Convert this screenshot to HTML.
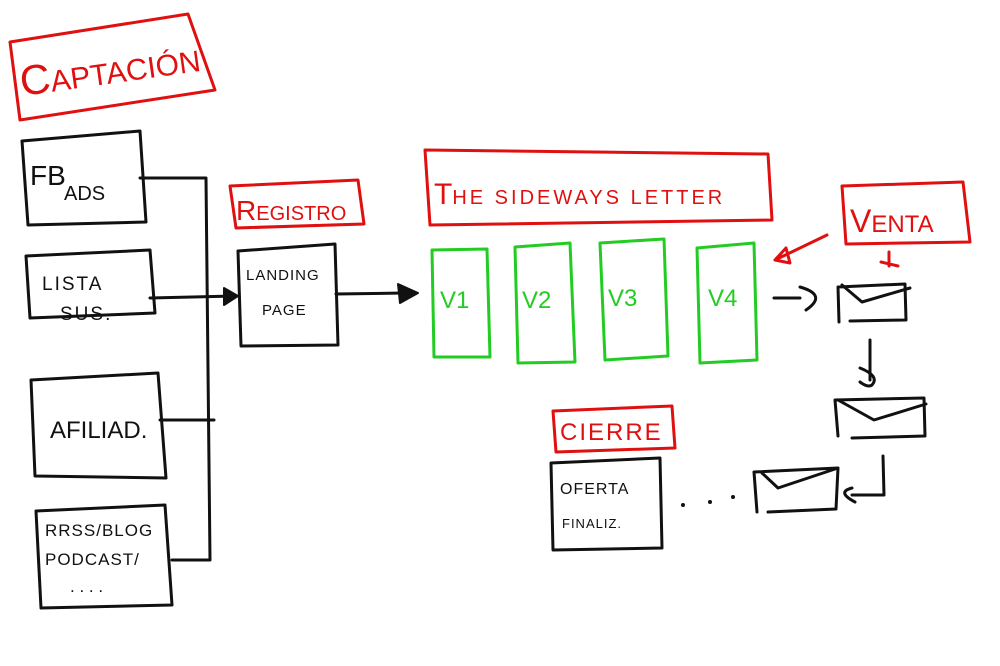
<!DOCTYPE html>
<html><head><meta charset="utf-8"><style>
html,body{margin:0;padding:0;background:#fff;width:1000px;height:666px;overflow:hidden}
svg{display:block}
text{font-family:"Liberation Sans",sans-serif;}
</style></head><body>
<svg width="1000" height="666" viewBox="0 0 1000 666" xmlns="http://www.w3.org/2000/svg">
<g fill="none" stroke-linecap="round" stroke-linejoin="round">
<g stroke="#e01010" stroke-width="3">
<path d="M10 42 L188 14 L215 90 L20 120 Z"/>
<path d="M230 186 L358 180 L364 224 L236 228 Z"/>
<path d="M425 150 L768 154 L772 220 L430 225 Z"/>
<path d="M842 186 L963 182 L970 242 L846 244 Z"/>
<path d="M553 411 L672 406 L675 448 L556 452 Z"/>
<path d="M827 235 Q800 248 775 260 M775 260 L786 248 M775 260 L790 263 L786 248"/>
<path d="M889 252 L889 266 M881 262 L898 266"/>
</g>
<g stroke="#111" stroke-width="3">
<path d="M22 141 L140 131 L146 222 L28 225 Z"/>
<path d="M26 256 L150 250 L155 313 L30 318 Z"/>
<path d="M31 380 L158 373 L166 478 L35 476 Z"/>
<path d="M36 511 L165 505 L172 605 L41 608 Z"/>
<path d="M238 251 L335 244 L338 345 L241 346 Z"/>
<path d="M551 463 L660 458 L662 548 L553 550 Z"/>
<path d="M140 178 L206 178 L210 560 L172 560"/>
<path d="M160 420 L214 420"/>
<path d="M150 298 L235 296"/>
<path d="M336 294 L404 293"/>
<path d="M774 298 L800 298 M800 287 Q828 295 806 310"/>
<path d="M838 287 L905 284 L906 320 L850 321 M838 287 L839 322 M842 285 L862 302 L910 288"/>
<path d="M835 400 L924 398 L925 436 L852 438 M835 400 L838 436 M838 400 L874 420 L926 404"/>
<path d="M754 472 L838 468 L836 509 L768 512 M754 472 L757 512 M762 473 L778 488 L838 468"/>
<path d="M870 340 L870 380 M860 368 Q880 376 872 385 Q868 388 860 382"/>
<path d="M883 456 L884 495 L852 495 M852 488 Q836 492 855 502"/>
</g>
<g fill="#111" stroke="#111" stroke-width="2">
<path d="M224 288 L238 296 L224 305 Z"/>
<path d="M398 284 L418 293 L400 303 Z"/>
</g>
<g fill="#111"><circle cx="683" cy="505" r="2"/><circle cx="710" cy="502" r="2"/><circle cx="733" cy="497" r="2"/></g>
<g stroke="#22cc22" stroke-width="3">
<path d="M432 250 L487 249 L490 357 L434 357 Z"/>
<path d="M515 247 L570 243 L575 362 L518 363 Z"/>
<path d="M600 243 L664 239 L668 356 L605 360 Z"/>
<path d="M697 248 L754 243 L757 360 L700 363 Z"/>
</g>
</g>
<g fill="#e01010">
<text x="22" y="96" font-size="42" transform="rotate(-8 22 96)">C<tspan font-size="30">APTACIÓN</tspan></text>
<text x="236" y="220" font-size="28">R<tspan font-size="20">EGISTRO</tspan></text>
<text x="434" y="204" font-size="30">T<tspan font-size="20" letter-spacing="3">HE SIDEWAYS LETTER</tspan></text>
<text x="850" y="232" font-size="32">V<tspan font-size="24">ENTA</tspan></text>
<text x="560" y="440" font-size="24" letter-spacing="2">CIERRE</text>
</g>
<g fill="#22cc22" font-size="24">
<text x="440" y="308">V1</text><text x="522" y="308">V2</text><text x="608" y="306">V3</text><text x="708" y="306">V4</text>
</g>
<g fill="#111">
<text x="30" y="185" font-size="28">FB</text><text x="64" y="200" font-size="20">ADS</text>
<text x="42" y="290" font-size="19" letter-spacing="2">LISTA</text><text x="60" y="320" font-size="19" letter-spacing="2">SUS.</text>
<text x="50" y="438" font-size="24">AFILIAD.</text>
<text x="45" y="536" font-size="17" letter-spacing="1">RRSS/BLOG</text><text x="45" y="565" font-size="17" letter-spacing="1">PODCAST/</text><text x="70" y="592" font-size="17">. . . .</text>
<text x="246" y="280" font-size="15" letter-spacing="1">LANDING</text><text x="262" y="315" font-size="15" letter-spacing="1">PAGE</text>
<text x="560" y="494" font-size="16" letter-spacing="1">OFERTA</text><text x="562" y="528" font-size="13" letter-spacing="1">FINALIZ.</text>
</g>
</svg>
</body></html>
